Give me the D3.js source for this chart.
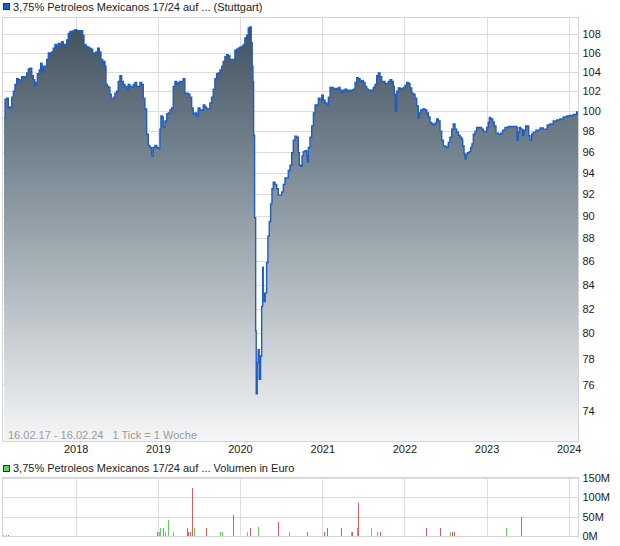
<!DOCTYPE html>
<html><head><meta charset="utf-8">
<script src="https://cdn.jsdelivr.net/npm/d3@7"></script>
<style>
body{margin:0;background:#fff}
svg{display:block}
text{font-family:"Liberation Sans",Arial,sans-serif}
</style>
</head><body>
<svg id="chart" width="620" height="546"></svg>
<script>
// ---- data (decimal year, price) ----
const priceData = [
[2017.127,99.3],[2017.140,101.2],[2017.160,101.3],[2017.180,100.3],[2017.200,100.4],[2017.221,101.4],[2017.241,102.0],[2017.261,102.7],[2017.282,103.3],[2017.301,103.2],[2017.322,103.0],[2017.343,103.5],[2017.362,103.5],[2017.383,103.5],[2017.404,103.9],[2017.423,104.3],[2017.444,104.4],[2017.465,103.6],[2017.484,103.2],[2017.501,102.6],[2017.517,102.9],[2017.533,103.8],[2017.557,104.2],[2017.574,104.9],[2017.590,103.9],[2017.606,104.6],[2017.626,104.6],[2017.647,105.3],[2017.667,106.0],[2017.687,106.0],[2017.708,106.1],[2017.727,106.5],[2017.748,106.9],[2017.769,106.7],[2017.788,107.0],[2017.809,107.0],[2017.830,107.2],[2017.849,106.9],[2017.870,106.9],[2017.890,107.4],[2017.910,108.1],[2017.931,108.3],[2017.951,108.3],[2017.971,108.4],[2017.991,108.5],
[2018.012,108.4],[2018.032,108.4],[2018.052,108.4],[2018.073,108.4],[2018.085,107.9],[2018.101,106.9],[2018.125,106.7],[2018.146,106.6],[2018.166,106.5],[2018.186,106.4],[2018.207,106.0],[2018.226,106.0],[2018.247,106.1],[2018.268,106.5],[2018.287,106.1],[2018.308,105.3],[2018.329,104.7],[2018.344,105.1],[2018.357,104.6],[2018.369,102.7],[2018.385,102.5],[2018.402,102.4],[2018.417,101.7],[2018.433,101.2],[2018.458,101.4],[2018.478,101.8],[2018.499,102.0],[2018.518,103.0],[2018.539,103.6],[2018.560,103.0],[2018.579,102.7],[2018.600,102.5],[2018.621,102.2],[2018.640,102.7],[2018.661,102.5],[2018.682,102.4],[2018.701,102.7],[2018.722,102.9],[2018.742,102.5],[2018.762,102.5],[2018.783,102.9],[2018.803,102.7],[2018.823,101.3],[2018.843,100.2],[2018.864,97.7],[2018.884,96.6],[2018.904,96.4],[2018.925,95.6],[2018.944,96.4],[2018.965,96.6],[2018.986,96.4],
[2019.005,96.3],[2019.026,98.2],[2019.038,99.5],[2019.054,99.4],[2019.066,98.4],[2019.087,99.0],[2019.108,99.7],[2019.127,99.8],[2019.148,100.1],[2019.168,100.3],[2019.188,102.5],[2019.209,103.0],[2019.229,102.7],[2019.249,102.9],[2019.269,103.0],[2019.290,103.0],[2019.310,103.3],[2019.330,101.8],[2019.351,101.8],[2019.370,101.7],[2019.391,101.4],[2019.412,100.3],[2019.431,99.7],[2019.452,99.8],[2019.473,99.5],[2019.492,100.3],[2019.513,100.1],[2019.533,100.1],[2019.553,100.6],[2019.574,100.4],[2019.594,100.2],[2019.614,100.2],[2019.634,100.8],[2019.655,101.4],[2019.675,102.2],[2019.695,103.3],[2019.716,103.8],[2019.735,103.9],[2019.756,104.2],[2019.777,104.6],[2019.796,105.1],[2019.817,105.6],[2019.838,105.8],[2019.857,105.7],[2019.878,105.3],[2019.899,105.3],[2019.918,105.3],[2019.939,106.3],[2019.959,106.4],[2019.979,106.5],
[2020.000,106.6],[2020.020,106.7],[2020.040,106.9],[2020.060,107.6],[2020.081,107.9],[2020.101,108.7],[2020.121,108.8],[2020.130,108.8],[2020.137,107.1],[2020.149,104.6],[2020.158,103.0],[2020.166,97.6],[2020.178,89.85],[2020.191,80.2],[2020.198,75.3],[2020.210,77.7],[2020.222,78.7],[2020.234,76.4],[2020.251,78.2],[2020.264,82.2],[2020.276,85.5],[2020.283,83.3],[2020.295,82.6],[2020.307,83.3],[2020.324,85.9],[2020.340,88.2],[2020.356,89.5],[2020.373,91.1],[2020.389,92.5],[2020.405,93.1],[2020.426,92.9],[2020.446,92.5],[2020.466,91.9],[2020.486,91.9],[2020.507,92.2],[2020.527,92.9],[2020.547,93.5],[2020.568,93.5],[2020.587,94.2],[2020.608,94.7],[2020.629,95.9],[2020.648,97.1],[2020.669,97.5],[2020.690,97.4],[2020.709,95.9],[2020.721,94.7],[2020.738,94.6],[2020.754,95.6],[2020.770,96.0],[2020.791,96.1],[2020.811,95.6],[2020.819,95.0],[2020.831,96.4],[2020.851,97.4],[2020.872,98.5],[2020.892,99.8],[2020.912,100.6],[2020.933,100.6],[2020.952,101.3],[2020.973,101.1],[2020.994,101.6],
[2021.013,101.1],[2021.034,100.8],[2021.055,100.6],[2021.074,101.4],[2021.095,102.4],[2021.116,102.4],[2021.135,102.2],[2021.156,102.3],[2021.176,102.2],[2021.196,102.4],[2021.217,102.1],[2021.237,101.9],[2021.257,102.1],[2021.277,102.2],[2021.298,102.0],[2021.318,102.1],[2021.338,102.0],[2021.359,102.1],[2021.378,102.2],[2021.399,102.9],[2021.420,103.4],[2021.439,103.3],[2021.460,103.0],[2021.481,103.1],[2021.500,102.9],[2021.521,102.5],[2021.541,102.2],[2021.561,102.1],[2021.582,102.1],[2021.602,102.1],[2021.622,102.4],[2021.642,102.7],[2021.663,103.6],[2021.683,103.9],[2021.703,103.5],[2021.724,103.0],[2021.743,103.0],[2021.764,102.8],[2021.785,102.8],[2021.804,103.0],[2021.825,103.2],[2021.846,103.0],[2021.865,102.5],[2021.877,101.7],[2021.890,100.0],[2021.907,102.0],[2021.926,102.35],[2021.947,102.3],[2021.967,102.2],[2021.987,102.4],
[2022.008,102.6],[2022.028,102.9],[2022.048,102.8],[2022.068,102.35],[2022.089,101.8],[2022.109,101.7],[2022.129,101.3],[2022.150,100.5],[2022.169,99.3],[2022.182,99.8],[2022.199,100.1],[2022.223,100.2],[2022.251,100.1],[2022.272,99.8],[2022.291,99.4],[2022.312,98.85],[2022.333,98.7],[2022.352,98.6],[2022.373,98.8],[2022.393,99.2],[2022.413,99.0],[2022.434,98.0],[2022.454,97.1],[2022.474,96.55],[2022.494,96.5],[2022.515,96.4],[2022.535,96.9],[2022.555,97.4],[2022.576,98.2],[2022.595,98.7],[2022.616,98.2],[2022.637,97.9],[2022.656,97.6],[2022.677,97.4],[2022.698,97.2],[2022.710,96.55],[2022.726,95.8],[2022.738,95.3],[2022.750,95.7],[2022.766,95.9],[2022.790,96.0],[2022.807,96.4],[2022.823,96.75],[2022.839,97.7],[2022.860,98.0],[2022.880,98.35],[2022.900,98.35],[2022.920,98.35],[2022.941,98.2],[2022.961,98.0],[2022.981,97.9],
[2023.002,98.35],[2023.021,98.85],[2023.034,99.35],[2023.051,99.2],[2023.075,98.9],[2023.094,98.5],[2023.115,97.8],[2023.143,97.7],[2023.172,97.8],[2023.197,98.1],[2023.225,98.35],[2023.265,98.45],[2023.306,98.45],[2023.346,98.45],[2023.367,98.35],[2023.374,97.1],[2023.387,97.9],[2023.399,98.35],[2023.416,98.2],[2023.440,97.6],[2023.456,98.1],[2023.477,98.5],[2023.496,98.5],[2023.513,97.55],[2023.529,97.1],[2023.550,97.7],[2023.569,97.9],[2023.602,98.1],[2023.630,98.1],[2023.651,98.3],[2023.691,98.2],[2023.724,98.2],[2023.739,98.6],[2023.772,98.7],[2023.812,99.0],[2023.854,99.1],[2023.894,99.2],[2023.934,99.4],[2023.976,99.5],
[2024.016,99.55],[2024.056,99.65],[2024.097,99.9],[2024.126,99.95]
];

// ---- volume (decimal year, million EUR, up=1 / down=0) ----
const volDates = [2017.127,2017.160,2017.180,2017.200,2017.331,2017.452,2017.493,2017.557,2017.964,2018.360,2018.438,2018.458,2018.490,2018.621,2018.694,2018.856,2018.884,2018.925,2018.993,2019.017,2019.034,2019.066,2019.090,2019.127,2019.188,2019.358,2019.379,2019.400,2019.419,2019.452,2019.594,2019.760,2019.784,2019.918,2020.088,2020.133,2020.222,2020.466,2020.600,2020.819,2021.026,2021.062,2021.232,2021.354,2021.366,2021.427,2021.444,2021.597,2021.670,2021.707,2022.267,2022.437,2022.559,2022.588,2022.607,2023.240,2023.423];
const volMillions = [3,4,3,2,2,2,2,1,2,1.5,2,1.5,2,1,1,2,2,2,12,12,20,20,12,42,12,20,12,12,124,20,20,12,12,55,12,20,24,37,12,12,11,21,21,11,11,21,86,21,11,11,21,21,11,11,11,21,49];
const volUp = [1,1,0,1,0,1,0,1,0,0,1,0,0,1,1,0,0,0,0,1,1,0,1,1,1,0,0,0,0,1,0,1,1,0,1,0,1,0,1,0,0,0,0,1,0,1,0,1,1,0,0,0,1,0,0,1,0];

const priceTicks = [74,76,78,80,82,84,86,88,90,92,94,96,98,100,102,104,106,108];
const volTicks = [0,50,100,150];
const yearTicks = [2018,2019,2020,2021,2022,2023,2024];
const titleMain = "3,75% Petroleos Mexicanos 17/24 auf ... (Stuttgart)";
const titleVol = "3,75% Petroleos Mexicanos 17/24 auf ... Volumen in Euro";
const rangeLabel = "16.02.17 - 16.02.24   1 Tick = 1 Woche";

// ---- helpers ----
function dy(t){const y=Math.floor(t);const a=Date.UTC(y,0,1),b=Date.UTC(y+1,0,1);return new Date(a+(t-y)*(b-a));}

const svg = d3.select("#chart");
const L = 2.5, R = 578.5, T = 17.5, B = 441.5;
const VT = 477.5, VB = 536.5;

const x = d3.scaleUtc()
  .domain([new Date(Date.UTC(2017,1,16)), new Date(Date.UTC(2024,1,16))])
  .range([3.9, 579]);
const y = d3.scaleLog().domain([71.81, 109.89]).range([441, 17]);
const yv = d3.scaleLinear().domain([0,150]).range([536.3, 477.7]);

const defs = svg.append("defs");
const grad = defs.append("linearGradient").attr("id","g")
  .attr("gradientUnits","userSpaceOnUse").attr("x1",0).attr("x2",0).attr("y1",17).attr("y2",441);
[[0,"#3d4e5b"],[0.35,"#798994"],[0.5,"#96a2aa"],[0.75,"#c6ccd0"],[1,"#f5f6f7"]]
  .forEach(([o,c])=>grad.append("stop").attr("offset",o).attr("stop-color",c));
defs.append("clipPath").attr("id","clipMain").append("rect")
  .attr("x",L).attr("y",T).attr("width",R-L).attr("height",B-T);

// ---- main chart grid ----
const gridColor = "#dcdcdc";
svg.append("g").attr("transform",`translate(${L},0)`)
  .call(d3.axisRight(y).tickValues(priceTicks).tickSize(R-L).tickFormat(""))
  .call(g=>g.select(".domain").remove())
  .call(g=>g.selectAll("line").attr("stroke",gridColor).attr("shape-rendering","crispEdges"));
svg.append("g").attr("transform",`translate(0,${T})`)
  .call(d3.axisBottom(x).tickValues(yearTicks.map(dy)).tickSize(B-T).tickFormat(""))
  .call(g=>g.select(".domain").remove())
  .call(g=>g.selectAll("line").attr("stroke",gridColor).attr("shape-rendering","crispEdges"));

// ---- area & line ----
const pts = priceData.map(d=>({date:dy(d[0]), v:d[1]}));
const area = d3.area().curve(d3.curveStepAfter)
  .x(d=>x(d.date)).y0(441).y1(d=>y(d.v));
const line = d3.line().curve(d3.curveStepAfter)
  .x(d=>x(d.date)).y(d=>y(d.v));
const gm = svg.append("g").attr("clip-path","url(#clipMain)");
gm.append("path").datum(pts).attr("d",area).attr("fill","url(#g)");
gm.append("path").datum(pts).attr("d",line).attr("fill","none")
  .attr("stroke","#1f5cc4").attr("stroke-width",1.4);

svg.append("rect").attr("x",L).attr("y",T).attr("width",R-L).attr("height",B-T)
  .attr("fill","none").attr("stroke","#d4d4d4").attr("shape-rendering","crispEdges");

// ---- axes labels ----
svg.append("g").attr("transform",`translate(${R},0)`)
  .call(d3.axisRight(y).tickValues(priceTicks).tickSize(0).tickPadding(4).tickFormat(d3.format("d")))
  .call(g=>g.select(".domain").remove())
  .call(g=>g.selectAll("text").attr("fill","#222").style("font-size","11px"));
svg.append("g").attr("transform",`translate(0,441)`)
  .call(d3.axisBottom(x).tickValues(yearTicks.map(dy)).tickSize(0).tickPadding(4).tickFormat(d3.utcFormat("%Y")))
  .call(g=>g.select(".domain").remove())
  .call(g=>g.selectAll("text").attr("fill","#222").style("font-size","11px"));

svg.append("text").attr("x",8).attr("y",439).attr("fill","#9a9a9a").style("font-size","11px")
  .attr("xml:space","preserve").style("white-space","pre").text(rangeLabel);

// ---- legend main ----
svg.append("rect").attr("x",3.5).attr("y",3.5).attr("width",6).attr("height",6)
  .attr("fill","#1f5cc4").attr("stroke","#333");
svg.append("text").attr("x",13).attr("y",11).attr("fill","#222").style("font-size","11px").text(titleMain);

// ---- volume chart ----
svg.append("rect").attr("x",3.5).attr("y",465.5).attr("width",6).attr("height",6)
  .attr("fill","#5fd35f").attr("stroke","#333");
svg.append("text").attr("x",13).attr("y",472).attr("fill","#222").style("font-size","11px").text(titleVol);

svg.append("g").attr("transform",`translate(${L},0)`)
  .call(d3.axisRight(yv).tickValues(volTicks).tickSize(R-L).tickFormat(""))
  .call(g=>g.select(".domain").remove())
  .call(g=>g.selectAll("line").attr("stroke",gridColor).attr("shape-rendering","crispEdges"));
svg.append("g").attr("transform",`translate(0,${VT})`)
  .call(d3.axisBottom(x).tickValues(yearTicks.map(dy)).tickSize(VB-VT).tickFormat(""))
  .call(g=>g.select(".domain").remove())
  .call(g=>g.selectAll("line").attr("stroke",gridColor).attr("shape-rendering","crispEdges"));
svg.append("rect").attr("x",L).attr("y",VT).attr("width",R-L).attr("height",VB-VT)
  .attr("fill","none").attr("stroke","#d4d4d4").attr("shape-rendering","crispEdges");

const vols = volDates.map((t,i)=>({date:dy(t), v:volMillions[i], up:volUp[i]}));
svg.append("g").selectAll("rect").data(vols).join("rect")
  .attr("x",d=>Math.floor(x(d.date)))
  .attr("width",1)
  .attr("y",d=>yv(d.v))
  .attr("height",d=>yv(0)-yv(d.v))
  .attr("fill",d=>d.up?"#5fd35f":"#e05a5a")
  .attr("shape-rendering","crispEdges");

svg.append("g").attr("transform",`translate(${R},0)`)
  .call(d3.axisRight(yv).tickValues(volTicks).tickSize(0).tickPadding(4).tickFormat(d=>d+"M"))
  .call(g=>g.select(".domain").remove())
  .call(g=>g.selectAll("text").attr("fill","#222").style("font-size","11px"));
</script>
</body></html>
